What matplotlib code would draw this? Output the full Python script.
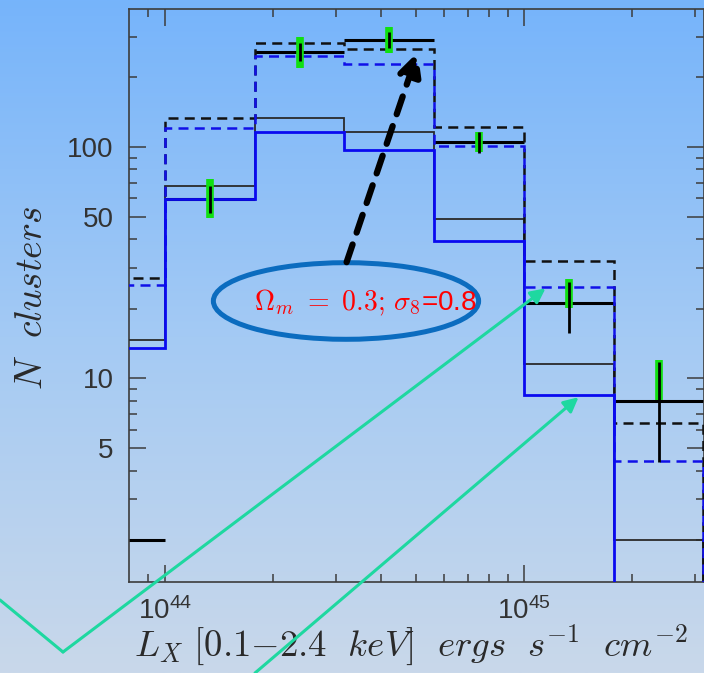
import numpy as np
import matplotlib
matplotlib.use("Agg")
import matplotlib.pyplot as plt
from matplotlib.patches import Ellipse
from matplotlib.ticker import FixedLocator, FixedFormatter, NullFormatter
from matplotlib.colors import LinearSegmentedColormap

plt.rcParams['mathtext.fontset'] = 'cm'

# bin edges in log10(L_X)
log_edges = [43.75, 44.0, 44.25, 44.5, 44.75, 45.0, 45.25, 45.5]

# model predictions per bin
model_solid_black = [14.7, 68, 134, 116.5, 48.8, 11.6, 2.0]
model_solid_blue = [13.5, 59.8, 115.8, 96.8, 39.2, 8.45, 1.0]
model_dash_black = [27.2, 133, 282, 264, 122.4, 32.2, 6.4]
model_dash_blue = [25.3, 120.5, 247, 228, 101.3, 24.9, 4.4]

# observed counts and errors
n_obs = [2.0, 59.8, 258, 290, 105, 21.1, 8.0]
err_lo = [np.nan, 51.9, 235, 267, 94, 15.7, 4.36]
err_hi = [np.nan, 67.9, 282, 315, 116.5, 26.2, 11.8]
alt_lo = [np.nan, 49.2, 220, 256, 95.4, 20.1, 8.05]
alt_hi = [np.nan, 72.7, 300, 331, 116.5, 26.8, 12.0]

edges = 10.0 ** np.array(log_edges)
centers = np.sqrt(edges[:-1] * edges[1:])

fig = plt.figure(figsize=(7.04, 6.73), dpi=100)

# slide-style gradient background
bg = fig.add_axes([0, 0, 1, 1], zorder=-10)
cmap = LinearSegmentedColormap.from_list('bg', ['#c9d8ea', '#a4caf4', '#76b4fb'])
bg.imshow(np.linspace(0, 1, 256).reshape(-1, 1), aspect='auto', cmap=cmap,
          extent=[0, 1, 0, 1], origin='lower')
bg.axis('off')

ax = fig.add_axes([129 / 704, 91 / 673, 574.5 / 704, 573 / 673])
ax.set_facecolor('none')
ax.set_xscale('log')
ax.set_yscale('log')

dash = (0, (4, 2.5))
ax.stairs(model_solid_black, edges, baseline=1.0, color='#2a2a2a', lw=1.3, zorder=3)
ax.stairs(model_dash_black, edges, baseline=1.0, color='#111111', lw=1.8,
          linestyle=dash, zorder=3)
ax.stairs(model_dash_blue, edges, baseline=1.0, color='#1010e8', lw=1.8,
          linestyle=dash, zorder=3)
ax.stairs(model_solid_blue, edges, baseline=1.0, color='#0a0af0', lw=2.0, zorder=4)

# data: horizontal bars per bin plus error bars
ax.hlines(n_obs, edges[:-1], edges[1:], color='black', lw=2.2, zorder=2)
ax.vlines(centers, alt_lo, alt_hi, color='#10e010', lw=5.5, zorder=5)
ax.vlines(centers, err_lo, err_hi, color='black', lw=2.0, zorder=6)

ax.set_xlim(10 ** 43.9, 10 ** 45.5)
ax.set_ylim(1.32, 395)

# ticks
ax.xaxis.set_major_locator(FixedLocator([1e44, 1e45]))
ax.xaxis.set_major_formatter(FixedFormatter([r'$\mathdefault{10^{44}}$',
                                             r'$\mathdefault{10^{45}}$']))
ax.xaxis.set_minor_locator(FixedLocator([9e43] + [k * 1e44 for k in range(2, 10)]
                                        + [2e45, 3e45]))
ax.xaxis.set_minor_formatter(NullFormatter())
ax.yaxis.set_major_locator(FixedLocator([5, 10, 50, 100]))
ax.yaxis.set_major_formatter(FixedFormatter(['5', '10', '50', '100']))
ax.yaxis.set_minor_locator(FixedLocator([2, 3, 4, 6, 7, 8, 9, 20, 30, 40,
                                         60, 70, 80, 90, 200, 300]))
ax.yaxis.set_minor_formatter(NullFormatter())

ax.tick_params(which='both', direction='in', top=True, right=True,
               color='#3c3c3c', width=1.1)
ax.tick_params(which='major', length=12.5, pad=11, labelsize=20,
               labelcolor='#333333')
ax.tick_params(which='minor', length=6)
for lab in ax.get_xticklabels() + ax.get_yticklabels():
    lab.set_family('Liberation Sans')
for sp in ax.spines.values():
    sp.set_color('#3c3c3c')
    sp.set_linewidth(1.2)

ax.set_xlabel(r'$\mathit{L_X\ [0.1{-}2.4\ \ keV]\ \ ergs\ \ s^{-1}\ \ cm^{-2}}$',
              fontsize=26.5, color='#2a2a2a', va='center')
ax.xaxis.set_label_coords(0.49, -0.110)
ax.set_ylabel(r'$\mathit{N\ \ clusters}$', fontsize=27, color='#2a2a2a',
              va='center', ha='center')
ax.yaxis.set_label_coords(-0.168, 0.496)

# parameter callout
ax.add_patch(Ellipse((0.3777, 0.4904), 0.4617, 0.1337, transform=ax.transAxes,
                     fill=False, edgecolor='#0b6cbf', lw=3.6, zorder=7))
ax.text(0.411, 0.487, r'$\Omega_m\ =\ 0.3;\,\sigma_8$=0.8', transform=ax.transAxes,
        family='Liberation Sans', color='red', fontsize=20,
        ha='center', va='center', zorder=8)

ax.annotate('', xy=(10 ** 44.704, 257), xytext=(10 ** 44.506, 31.8),
            arrowprops=dict(arrowstyle='-|>', color='black', lw=4.5,
                            linestyle=(0, (3, 2)), mutation_scale=34,
                            shrinkA=0, shrinkB=0), zorder=8)

# pointers from the lower left
teal = '#1ed8a0'
ax.annotate('', xy=(0, 73), xytext=(63, 21), xycoords='figure pixels',
            textcoords='figure pixels', annotation_clip=False,
            arrowprops=dict(arrowstyle='-', color=teal, lw=2.2,
                            shrinkA=0, shrinkB=0), zorder=9)
ax.annotate('', xy=(10 ** 45.06, 24.5), xytext=(63, 21),
            textcoords='figure pixels', annotation_clip=False,
            arrowprops=dict(arrowstyle='-|>', color=teal, lw=2.2,
                            mutation_scale=22, shrinkA=0, shrinkB=0), zorder=9)
ax.annotate('', xy=(10 ** 45.152, 8.3), xytext=(255, 0),
            textcoords='figure pixels', annotation_clip=False,
            arrowprops=dict(arrowstyle='-|>', color=teal, lw=2.2,
                            mutation_scale=22, shrinkA=0, shrinkB=0), zorder=9)

fig.savefig('out.png', dpi=100)
